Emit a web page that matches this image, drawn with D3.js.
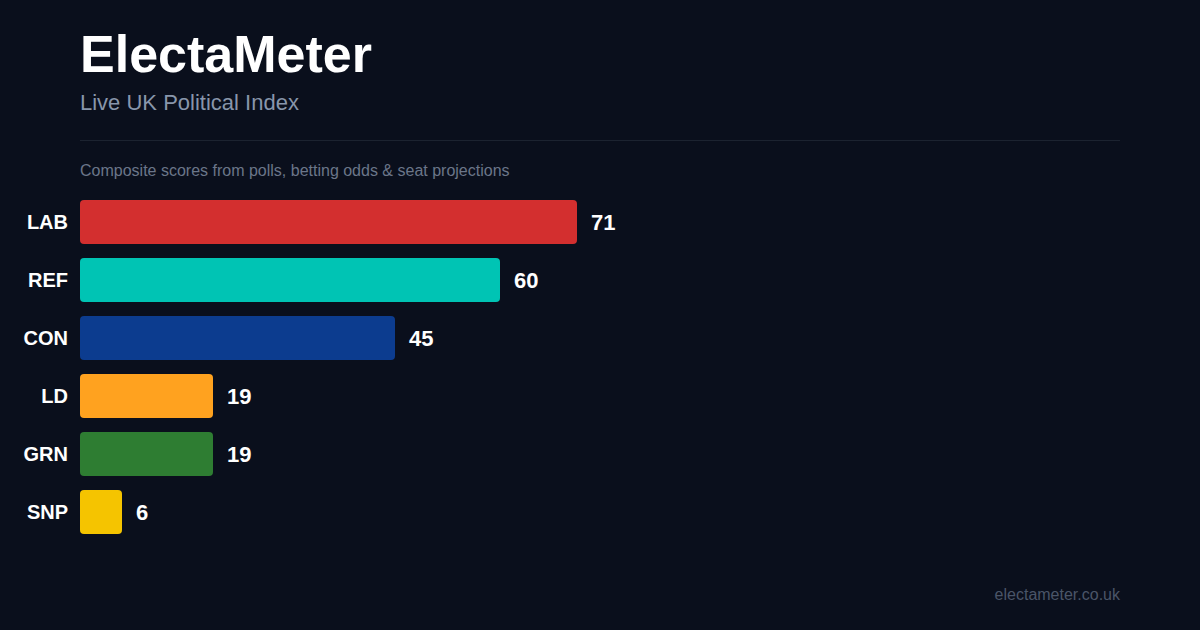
<!DOCTYPE html>
<html>
<head>
<meta charset="utf-8">
<script src="https://cdn.jsdelivr.net/npm/d3@7"></script>
<style>
  html, body { margin: 0; padding: 0; background: #0a0f1c; }
  svg { display: block; font-family: "Liberation Sans", Arial, sans-serif; }
</style>
</head>
<body>
<div id="chart"></div>
<script>
var parties = ['LAB', 'REF', 'CON', 'LD', 'GRN', 'SNP'];
var scores = [71, 60, 45, 19, 19, 6];
var colours = ['#d32f2f', '#00c4b4', '#0c3c8f', '#ffa21f', '#2e7d32', '#f5c400'];

function draw() {
    var width = 1200, height = 630;
    var left = 80, right = 1120;
    var barH = 44, gap = 14;

    var svg = d3.select('#chart')
        .append('svg')
        .attr('width', width)
        .attr('height', height);

    svg.append('rect')
        .attr('width', width)
        .attr('height', height)
        .attr('fill', '#0a0f1c');

    // header
    svg.append('text')
        .attr('x', left).attr('y', 72)
        .attr('fill', '#ffffff')
        .style('font-size', '52px')
        .style('font-weight', 700)
        .text('ElectaMeter');

    svg.append('text')
        .attr('x', left).attr('y', 110)
        .attr('fill', '#8896ab')
        .style('font-size', '22px')
        .text('Live UK Political Index');

    svg.append('line')
        .attr('x1', left).attr('x2', right)
        .attr('y1', 140.5).attr('y2', 140.5)
        .attr('stroke', '#1c2330')
        .attr('stroke-width', 1);

    svg.append('text')
        .attr('x', left).attr('y', 176)
        .attr('fill', '#6b7689')
        .style('font-size', '16px')
        .text('Composite scores from polls, betting odds & seat projections');

    // bars
    var data = parties.map((p, i) => ({ party: p, score: scores[i], colour: colours[i] }));

    var x = d3.scaleLinear().domain([0, 100]).range([left, left + 700]);
    var y = d3.scaleBand()
        .domain(parties)
        .range([200, 200 + (barH + gap) * parties.length - gap])
        .paddingInner(gap / (barH + gap))
        .paddingOuter(0);

    var rows = svg.append('g')
        .selectAll('g')
        .data(data)
        .enter()
        .append('g');

    rows.append('rect')
        .attr('x', x(0))
        .attr('y', d => y(d.party))
        .attr('width', d => x(d.score) - x(0))
        .attr('height', y.bandwidth())
        .attr('rx', 4)
        .attr('fill', d => d.colour);

    rows.append('text')
        .attr('x', 68)
        .attr('y', d => y(d.party) + y.bandwidth() / 2)
        .attr('dy', '0.35em')
        .attr('text-anchor', 'end')
        .attr('fill', '#ffffff')
        .style('font-size', '20px')
        .style('font-weight', 700)
        .text(d => d.party);

    rows.append('text')
        .attr('x', d => x(d.score) + 14)
        .attr('y', d => y(d.party) + y.bandwidth() / 2)
        .attr('dy', '0.35em')
        .attr('fill', '#ffffff')
        .style('font-size', '22px')
        .style('font-weight', 700)
        .text(d => d.score);

    // footer
    svg.append('text')
        .attr('x', right).attr('y', 600)
        .attr('text-anchor', 'end')
        .attr('fill', '#4a5568')
        .style('font-size', '16px')
        .text('electameter.co.uk');
}

document.addEventListener('DOMContentLoaded', draw);
</script>
</body>
</html>
